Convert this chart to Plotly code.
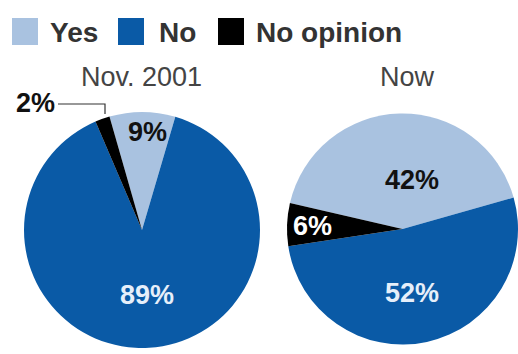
import plotly.graph_objects as go

# Survey answers, in percent
categories = ["Yes", "No", "No opinion"]
nov_2001 = [9, 89, 2]
now = [42, 52, 6]
panel_titles = ["Nov. 2001", "Now"]

colors = ["#a9c2e0", "#0a5aa6", "#000000"]

W, H = 518, 354
FONT = "Liberation Sans, Arial, sans-serif"


def px(x, y):
    """Pixel position (from top-left) to paper coordinates."""
    return x / W, 1 - y / H


def dom(x0, x1, y0, y1):
    return dict(x=[x0 / W, x1 / W], y=[1 - y1 / H, 1 - y0 / H])


fig = go.Figure()

fig.add_trace(go.Pie(
    labels=categories, values=nov_2001, sort=False, direction="clockwise",
    rotation=-16, marker=dict(colors=colors, line=dict(width=0)),
    textinfo="none", hoverinfo="label+percent", showlegend=False,
    domain=dom(24, 260, 112, 348),
))
fig.add_trace(go.Pie(
    labels=categories, values=now, sort=False, direction="clockwise",
    rotation=-77, marker=dict(colors=colors, line=dict(width=0)),
    textinfo="none", hoverinfo="label+percent", showlegend=False,
    domain=dom(287, 518, 108, 350),
))

annotations = []
shapes = []

# Legend row: coloured squares with bold labels
legend_boxes = [(12, 48), (118, 157), (218, 254)]
for (sx, tx), name, col in zip(legend_boxes, categories, colors):
    x0, y0 = px(sx, 18)
    x1, y1 = px(sx + 26, 45)
    shapes.append(dict(type="rect", xref="paper", yref="paper",
                       x0=x0, x1=x1, y0=y1, y1=y0,
                       fillcolor=col, line=dict(width=0)))
    ax, ay = px(tx, 32)
    annotations.append(dict(x=ax, y=ay, xref="paper", yref="paper",
                            text=f"<b>{name}</b>", showarrow=False,
                            xanchor="left", yanchor="middle",
                            font=dict(family=FONT, size=28, color="#333333")))

# Panel titles
for title, cx in zip(panel_titles, [141, 407]):
    ax, ay = px(cx, 77)
    annotations.append(dict(x=ax, y=ay, xref="paper", yref="paper",
                            text=title, showarrow=False,
                            xanchor="center", yanchor="middle",
                            font=dict(family=FONT, size=27, color="#444444")))

# Slice value labels
label_spots = [
    (nov_2001[0], 147, 132, "#111111"),
    (nov_2001[1], 147, 295, "#e6effa"),
    (nov_2001[2], 35, 103, "#111111"),
    (now[0], 412, 180, "#111111"),
    (now[1], 412, 293, "#e6effa"),
    (now[2], 312, 226, "#ffffff"),
]
for v, cx, cy, col in label_spots:
    ax, ay = px(cx, cy)
    annotations.append(dict(x=ax, y=ay, xref="paper", yref="paper",
                            text=f"<b>{v}%</b>", showarrow=False,
                            xanchor="center", yanchor="middle",
                            font=dict(family=FONT, size=27, color=col)))

# Leader line from the small "No opinion" label to its slice
p0, p1, p2 = px(58, 104), px(105, 104), px(105, 114)
shapes.append(dict(type="path", xref="paper", yref="paper",
                   path=f"M {p0[0]},{p0[1]} L {p1[0]},{p1[1]} L {p2[0]},{p2[1]}",
                   line=dict(color="#333333", width=1.2)))

fig.update_layout(
    width=W, height=H,
    margin=dict(l=0, r=0, t=0, b=0),
    paper_bgcolor="white", plot_bgcolor="white",
    annotations=annotations, shapes=shapes,
)

fig.write_html("out.html")
